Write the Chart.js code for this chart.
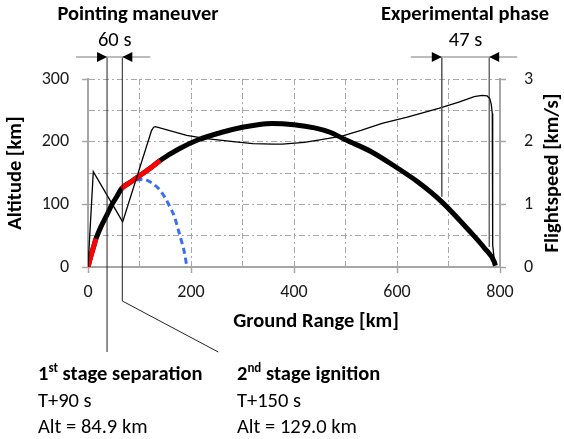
<!DOCTYPE html>
<html>
<head>
<meta charset="utf-8">
<script src="https://cdn.jsdelivr.net/npm/chart.js@4.4.1/dist/chart.umd.min.js"></script>
<style>
  html, body { margin: 0; padding: 0; background: #fff; }
  canvas { display: block; }
</style>
</head>
<body>
<canvas id="grafico" width="564" height="439"></canvas>
<script>
// DATOS

// trayectoria del vehiculo: alcance en tierra [km] -> altitud [km]
const rangoTray = [0, 5, 10, 15.5, 25, 36, 46, 56, 65.4, 80, 98, 120, 140, 178, 214, 260, 300, 330, 357, 400, 440, 470, 500, 550, 597, 640, 687, 739, 770, 789, 791];
const altTray = [0, 16, 30, 45, 64, 82, 99, 112.5, 125.5, 134, 144.5, 157, 170, 189, 203, 215, 223, 227, 229, 227, 222, 215, 203, 184, 160, 136, 104, 59, 30, 8, 2];

// tramos con motor encendido (se pintan en rojo encima de la trayectoria)
const tramosPropulsados = [[0, 15.5], [65.4, 140]];

// caida de la primera etapa (azul punteado)
const rangoEtapa1 = [94, 107, 120, 136, 150, 159, 168, 175, 182, 188, 192];
const altEtapa1 = [139, 140, 136, 126, 110, 96, 80, 60, 40, 20, 0];

// velocidad de vuelo [km/s] (eje derecho)
const rangoVel = [0, 10.3, 67.3, 123.5, 127.5, 131, 191.6, 230, 282, 320, 360, 377, 420, 450, 493, 530, 571, 620, 681, 720, 750, 765, 775, 780, 783, 785, 785.6, 786, 790];
const velocidad = [0, 1.52, 0.72, 2.18, 2.23, 2.24, 2.1, 2.05, 2.0, 1.97, 1.96, 1.96, 1.99, 2.03, 2.09, 2.18, 2.29, 2.39, 2.53, 2.63, 2.72, 2.74, 2.73, 2.69, 2.6, 2.45, 2.2, 0.35, 0.03];

// ventanas de tiempo marcadas arriba (en km de alcance)
const ventanaApuntado = [37, 66.6];     // 60 s
const ventanaExperimento = [687, 779];  // 47 s

// ticks de los ejes
const ticksAltitud = [0, 100, 200, 300];
const ticksRango = [0, 200, 400, 600, 800];
const ticksVelocidad = [0, 1, 2, 3];

const FUENTE = "Carlito, Lato, sans-serif";
const GRIS_EJE = "#a6a6a6";
const GRIS_GRILLA = "#a8a8a8";
const TAM = 20.5; // tamaño de los textos

// armo los puntos {x, y} a partir de los arrays
function puntos(xs, ys) {
  return xs.map((x, i) => ({ x: x, y: ys[i] }));
}

const trayectoria = puntos(rangoTray, altTray);

const datasets = [
  {
    label: "Trayectoria",
    data: trayectoria,
    borderColor: "#000",
    borderWidth: 5,
    cubicInterpolationMode: "monotone",
    pointRadius: 0,
    yAxisID: "y",
    order: 3,
  },
];

// tramos rojos (sub-tramos de la trayectoria)
tramosPropulsados.forEach(([desde, hasta]) => {
  datasets.push({
    label: "Propulsado",
    data: trayectoria.filter((p) => p.x >= desde && p.x <= hasta),
    borderColor: "#ff0000",
    borderWidth: 5,
    cubicInterpolationMode: "monotone",
    pointRadius: 0,
    yAxisID: "y",
    order: 2,
  });
});

datasets.push({
  label: "Primera etapa",
  data: puntos(rangoEtapa1, altEtapa1),
  borderColor: "#3c6cf5",
  borderWidth: 3,
  borderDash: [6, 4],
  cubicInterpolationMode: "monotone",
  pointRadius: 0,
  yAxisID: "y",
  order: 4,
});

datasets.push({
  label: "Velocidad",
  data: puntos(rangoVel, velocidad),
  borderColor: "#000",
  borderWidth: 1.3,
  tension: 0,
  pointRadius: 0,
  yAxisID: "y1",
  order: 1,
});

// SECCION ANOTACIONES (titulos de ejes, cotas de tiempo, textos de abajo)
function flecha(ctx, xPunta, y, dir) {
  // dir = 1 apunta a la derecha, -1 a la izquierda
  ctx.beginPath();
  ctx.moveTo(xPunta, y);
  ctx.lineTo(xPunta - dir * 10, y - 5);
  ctx.lineTo(xPunta - dir * 10, y + 5);
  ctx.closePath();
  ctx.fill();
}

function cota(ctx, x1, x2, yCota, texto) {
  ctx.strokeStyle = GRIS_EJE;
  ctx.lineWidth = 1.5;
  ctx.beginPath();
  ctx.moveTo(x1 - 31, yCota);
  ctx.lineTo(x2 + 28, yCota);
  ctx.stroke();
  ctx.fillStyle = "#000";
  flecha(ctx, x1, yCota, 1);
  flecha(ctx, x2, yCota, -1);
  ctx.font = `${TAM}px ${FUENTE}`;
  ctx.textAlign = "center";
  ctx.textBaseline = "middle";
  ctx.fillText(texto, (x1 + x2) / 2, yCota - 16);
}

function linea(ctx, pts) {
  ctx.beginPath();
  ctx.moveTo(pts[0][0], pts[0][1]);
  pts.slice(1).forEach((p) => ctx.lineTo(p[0], p[1]));
  ctx.stroke();
}

// texto con superindice tipo "1st"
function textoSuper(ctx, x, y, num, sup, resto) {
  ctx.textAlign = "left";
  ctx.textBaseline = "alphabetic";
  ctx.font = `bold ${TAM}px ${FUENTE}`;
  ctx.fillText(num, x, y);
  let xx = x + ctx.measureText(num).width;
  ctx.font = `bold 13px ${FUENTE}`;
  ctx.fillText(sup, xx, y - 8);
  xx += ctx.measureText(sup).width;
  ctx.font = `bold ${TAM}px ${FUENTE}`;
  ctx.fillText(resto, xx, y);
}

const anotaciones = {
  id: "anotaciones",
  afterDraw(chart) {
    const { ctx, chartArea } = chart;
    const x = chart.scales.x;
    const y = chart.scales.y;
    ctx.save();

    // titulos de ejes
    ctx.fillStyle = "#000";
    ctx.font = `bold ${TAM}px ${FUENTE}`;
    ctx.textAlign = "center";
    ctx.textBaseline = "middle";
    const yMedio = (chartArea.top + chartArea.bottom) / 2;
    ctx.save();
    ctx.translate(16, yMedio);
    ctx.rotate(-Math.PI / 2);
    ctx.fillText("Altitude [km]", 0, 0);
    ctx.restore();
    ctx.save();
    ctx.translate(553, yMedio);
    ctx.rotate(-Math.PI / 2);
    ctx.fillText("Flightspeed [km/s]", 0, 0);
    ctx.restore();
    ctx.fillText("Ground Range [km]", 316, 322);

    // titulos de las fases
    ctx.fillText("Pointing maneuver", 138, 15);
    ctx.fillText("Experimental phase", 465, 15);

    const yCota = chartArea.top - 22;

    // ventana de apuntado (60 s)
    const a1 = x.getPixelForValue(ventanaApuntado[0]);
    const a2 = x.getPixelForValue(ventanaApuntado[1]);
    ctx.strokeStyle = "#222";
    ctx.lineWidth = 1;
    linea(ctx, [[a1, yCota], [a1, chartArea.bottom + 85]]);
    linea(ctx, [[a2, yCota], [a2, chartArea.bottom + 34], [x.getPixelForValue(253), chartArea.bottom + 85]]);
    cota(ctx, a1, a2, yCota, "60 s");

    // ventana experimental (47 s)
    const e1 = x.getPixelForValue(ventanaExperimento[0]);
    const e2 = x.getPixelForValue(ventanaExperimento[1]);
    ctx.strokeStyle = "#555";
    ctx.lineWidth = 1.5;
    linea(ctx, [[e1, yCota], [e1, y.getPixelForValue(112)]]);
    ctx.strokeStyle = "#222";
    ctx.lineWidth = 1;
    linea(ctx, [[e2, yCota], [e2, y.getPixelForValue(32)]]);
    cota(ctx, e1, e2, yCota, "47 s");

    // textos de abajo
    ctx.fillStyle = "#000";
    textoSuper(ctx, 38, 380, "1", "st", " stage separation");
    textoSuper(ctx, 237, 380, "2", "nd", " stage ignition");
    ctx.font = `${TAM}px ${FUENTE}`;
    ctx.fillText("T+90 s", 38, 407);
    ctx.fillText("Alt = 84.9 km", 38, 433);
    ctx.fillText("T+150 s", 237, 407);
    ctx.fillText("Alt = 129.0 km", 237, 433);

    ctx.restore();
  },
};
// FIN SECCION ANOTACIONES

// grilla: solo dibujo la linea si no cae sobre un eje
function colorGrilla(min, max) {
  return (c) => (c.tick && (c.tick.value === min || c.tick.value === max) ? "rgba(0,0,0,0)" : GRIS_GRILLA);
}

function colorTick(lista) {
  return (c) => (c.tick && lista.includes(c.tick.value) ? GRIS_EJE : "rgba(0,0,0,0)");
}

const fuenteTicks = { family: FUENTE, size: 18 };

new Chart(document.getElementById("grafico"), {
  type: "line",
  data: { datasets: datasets },
  options: {
    responsive: false,
    animation: false,
    devicePixelRatio: 1,
    layout: { padding: { top: 79, left: 0, right: 0, bottom: 0 } },
    plugins: {
      legend: { display: false },
      tooltip: { enabled: false },
    },
    scales: {
      x: {
        type: "linear",
        min: 0,
        max: 800,
        afterFit: (s) => { s.height = 172; },
        ticks: {
          stepSize: 100,
          autoSkip: false,
          maxRotation: 0,
          padding: 9,
          color: "#1a1a1a",
          font: fuenteTicks,
          callback: (v) => (ticksRango.includes(v) ? v : ""),
        },
        grid: {
          color: colorGrilla(0, 800),
          lineWidth: 1,
          tickLength: 6,
          tickColor: colorTick(ticksRango),
          tickWidth: 1.5,
        },
        border: { color: GRIS_EJE, width: 2, dash: [6, 3, 2, 3] },
      },
      y: {
        position: "left",
        min: 0,
        max: 300,
        afterFit: (s) => { s.width = 88; },
        ticks: {
          stepSize: 50,
          autoSkip: false,
          padding: 13,
          color: "#1a1a1a",
          font: fuenteTicks,
          callback: (v) => (ticksAltitud.includes(v) ? v : ""),
        },
        grid: {
          color: colorGrilla(0, -1),
          lineWidth: 1,
          tickLength: 6,
          tickColor: colorTick(ticksAltitud),
          tickWidth: 1.5,
        },
        border: { color: GRIS_EJE, width: 2, dash: [6, 3, 2, 3] },
      },
      y1: {
        position: "right",
        min: 0,
        max: 3,
        afterFit: (s) => { s.width = 64; },
        ticks: {
          stepSize: 1,
          padding: 18,
          color: "#1a1a1a",
          font: fuenteTicks,
          callback: (v) => (ticksVelocidad.includes(v) ? v : ""),
        },
        grid: {
          drawOnChartArea: false,
          tickLength: 6,
          tickColor: GRIS_EJE,
          tickWidth: 1.5,
        },
        border: { color: GRIS_EJE, width: 2 },
      },
    },
  },
  plugins: [anotaciones],
});
</script>
</body>
</html>
